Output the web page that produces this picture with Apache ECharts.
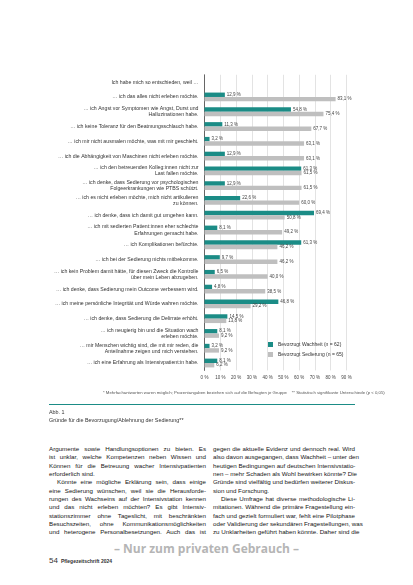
<!DOCTYPE html>
<html>
<head>
<meta charset="utf-8">
<script src="https://cdn.jsdelivr.net/npm/echarts@6/dist/echarts.min.js"></script>
<style>
  html, body { margin: 0; padding: 0; background: #fff; }
  #page { position: relative; width: 413px; height: 585px; overflow: hidden; font-family: "Liberation Sans", Arial, sans-serif; color: #222; }
  #main { position: absolute; left: 0; top: 0; width: 413px; height: 400px; }
  .foot { position: absolute; left: 103px; top: 390px; width: 252px; font-size: 4.3px; color: #555; white-space: nowrap; text-align: right; }
  .rule { position: absolute; left: 49px; top: 404px; width: 306px; height: 1px; background: #1b8c86; }
  .cap { position: absolute; left: 49px; top: 408px; font-size: 5.4px; line-height: 8px; color: #333; }
  .col { position: absolute; top: 445px; font-size: 6.2px; line-height: 8.33px; color: #161616; }
  .col div { white-space: nowrap; text-align: justify; text-align-last: justify; height: 8.33px; }
  .col div.end { text-align-last: left; }
  .col div.ind { padding-left: 8px; }
  .stamp { position: absolute; left: 0; width: 413px; top: 540px; text-align: center; font-size: 12px; font-weight: bold; color: #b5b5b5; font-family: "Open Sans", sans-serif; }
  .pg { position: absolute; left: 49px; top: 556px; font-size: 8px; color: #333; }
  .pg span { font-size: 5px; font-weight: bold; margin-left: 3px; }
</style>
</head>
<body>
<div id="page">
  <div id="main"></div>
  <div class="foot">* Mehrfachantworten waren möglich; Prozentangaben beziehen sich auf die Befragten je Gruppe &nbsp;&nbsp; ** Statistisch signifikante Unterschiede (p &lt; 0,05)</div>
  <div class="rule"></div>
  <div class="cap">Abb. 1<br>Gründe für die Bevorzugung/Ablehnung der Sedierung**</div>
  <div class="col" style="left:49px;width:157px">
    <div>Argumente sowie Handlungsoptionen zu bieten. Es</div>
    <div>ist unklar, welche Kompetenzen neben Wissen und</div>
    <div>Können für die Betreuung wacher Intensivpatienten</div>
    <div class="end">erforderlich sind.</div>
    <div class="ind">Könnte eine mögliche Erklärung sein, dass einige</div>
    <div>eine Sedierung wünschen, weil sie die Herausforde-</div>
    <div>rungen des Wachseins auf der Intensivstation kennen</div>
    <div>und das nicht erleben möchten? Es gibt Intensiv-</div>
    <div>stationszimmer ohne Tageslicht, mit beschränkten</div>
    <div>Besuchszeiten, ohne Kommunikationsmöglichkeiten</div>
    <div>und heterogene Personalbesetzungen. Auch das ist</div>
  </div>
  <div class="col" style="left:213px;width:142px">
    <div>gegen die aktuelle Evidenz und dennoch real. Wird</div>
    <div>also davon ausgegangen, dass Wachheit – unter den</div>
    <div>heutigen Bedingungen auf deutschen Intensivstatio-</div>
    <div>nen – mehr Schaden als Wohl bewirken könnte? Die</div>
    <div>Gründe sind vielfältig und bedürfen weiterer Diskus-</div>
    <div class="end">sion und Forschung.</div>
    <div class="ind">Diese Umfrage hat diverse methodologische Li-</div>
    <div>mitationen. Während die primäre Fragestellung ein-</div>
    <div>fach und gezielt formuliert war, fehlt eine Pilotphase</div>
    <div>oder Validierung der sekundären Fragestellungen, was</div>
    <div>zu Unklarheiten geführt haben könnte. Daher sind die</div>
  </div>
  <div class="stamp">– Nur zum privaten Gebrauch –</div>
  <div class="pg">54<span>Pflegezeitschrift 2024</span></div>
</div>
<script>
  // Kopfzeile der Kategorien
  var headLabel = 'Ich habe mich so entschieden, weil …';
  // Gründe (von oben nach unten)
  var reasons = [
    '… ich das alles nicht erleben möchte.',
    '… ich Angst vor Symptomen wie Angst, Durst und\nHalluzinationen habe.',
    '… ich keine Toleranz für den Beatmungsschlauch habe.',
    '… ich mir nicht ausmalen möchte, was mit mir geschieht.',
    '… ich die Abhängigkeit von Maschinen nicht erleben möchte.',
    '… ich den betreuenden Kolleg:innen nicht zur\nLast fallen möchte.',
    '… ich denke, dass Sedierung vor psychologischen\nFolgeerkrankungen wie PTBS schützt.',
    '… ich es nicht erleben möchte, mich nicht artikulieren\nzu können.',
    '… ich denke, dass ich damit gut umgehen kann.',
    '… ich mit sedierten Patient:innen eher schlechte\nErfahrungen gemacht habe.',
    '… ich Komplikationen befürchte.',
    '… ich bei der Sedierung nichts mitbekomme.',
    '… ich kein Problem damit hätte, für diesen Zweck die Kontrolle\nüber mein Leben abzugeben.',
    '… ich denke, dass Sedierung mein Outcome verbessern wird.',
    '… ich meine persönliche Integrität und Würde wahren möchte.',
    '… ich denke, dass Sedierung die Delirrate erhöht.',
    '… ich neugierig bin und die Situation wach\nerleben möchte.',
    '… mir Menschen wichtig sind, die mit mir reden, die\nAnteilnahme zeigen und mich verstehen.',
    '… ich eine Erfahrung als Intensivpatient:in habe.'
  ];
  // Bevorzugt Wachheit (n = 62), Prozent
  var wachheit = [12.9, 54.8, 11.3, 3.2, 12.9, 61.3, 12.9, 22.6, 69.4, 8.1, 61.3, 9.7, 6.5, 4.8, 46.8, 14.5, 8.1, 3.2, 8.1];
  // Bevorzugt Sedierung (n = 65), Prozent
  var sedierung = [83.1, 75.4, 67.7, 63.1, 63.1, 61.5, 61.5, 60.0, 50.8, 49.2, 46.2, 46.2, 40.0, 38.5, 29.2, 13.8, 9.2, 9.2, 6.2];
  var seriesNames = ['Bevorzugt Wachheit (n = 62)', 'Bevorzugt Sedierung (n = 65)'];

  var myChart = echarts.init(document.getElementById('main'));
  var fmt = function (p) { return p.value == null ? '' : p.value.toFixed(1).replace('.', ',') + ' %'; };
  var labelStyle = { show: true, position: 'right', distance: 2, fontSize: 4.5, color: '#444', formatter: fmt };

  var option = {
    animation: false,
    backgroundColor: '#fff',
    textStyle: { fontFamily: 'Liberation Sans, Arial, sans-serif' },
    grid: { left: 204.5, right: 66.5, top: 74.8, bottom: 29.6 },
    legend: {
      orient: 'vertical',
      left: 263, top: 337,
      itemWidth: 5, itemHeight: 5, itemGap: 5,
      icon: 'rect',
      textStyle: { fontSize: 5, color: '#333' },
      data: seriesNames
    },
    xAxis: {
      type: 'value',
      min: 0, max: 90, interval: 10,
      axisLine: { show: false },
      axisTick: { show: false },
      axisLabel: { fontSize: 4.5, color: '#444', margin: 5, formatter: '{value} %' },
      splitLine: { show: true, lineStyle: { color: '#dcdcdc', width: 0.8 } }
    },
    yAxis: {
      type: 'category',
      inverse: true,
      data: [headLabel].concat(reasons),
      axisLine: { show: true, lineStyle: { color: '#666', width: 1 } },
      axisTick: { show: false },
      axisLabel: { fontSize: 5.2, lineHeight: 6.2, color: '#333', margin: 6, interval: 0 }
    },
    series: [{
      name: seriesNames[0],
      type: 'bar',
      data: [null].concat(wachheit),
      barWidth: 4.4,
      barGap: '0%',
      itemStyle: { color: '#1b8c86' },
      label: labelStyle
    }, {
      name: seriesNames[1],
      type: 'bar',
      data: [null].concat(sedierung),
      barWidth: 4.4,
      itemStyle: { color: '#bfbfbf' },
      label: labelStyle
    }]
  };
  myChart.setOption(option);
</script>
</body>
</html>
